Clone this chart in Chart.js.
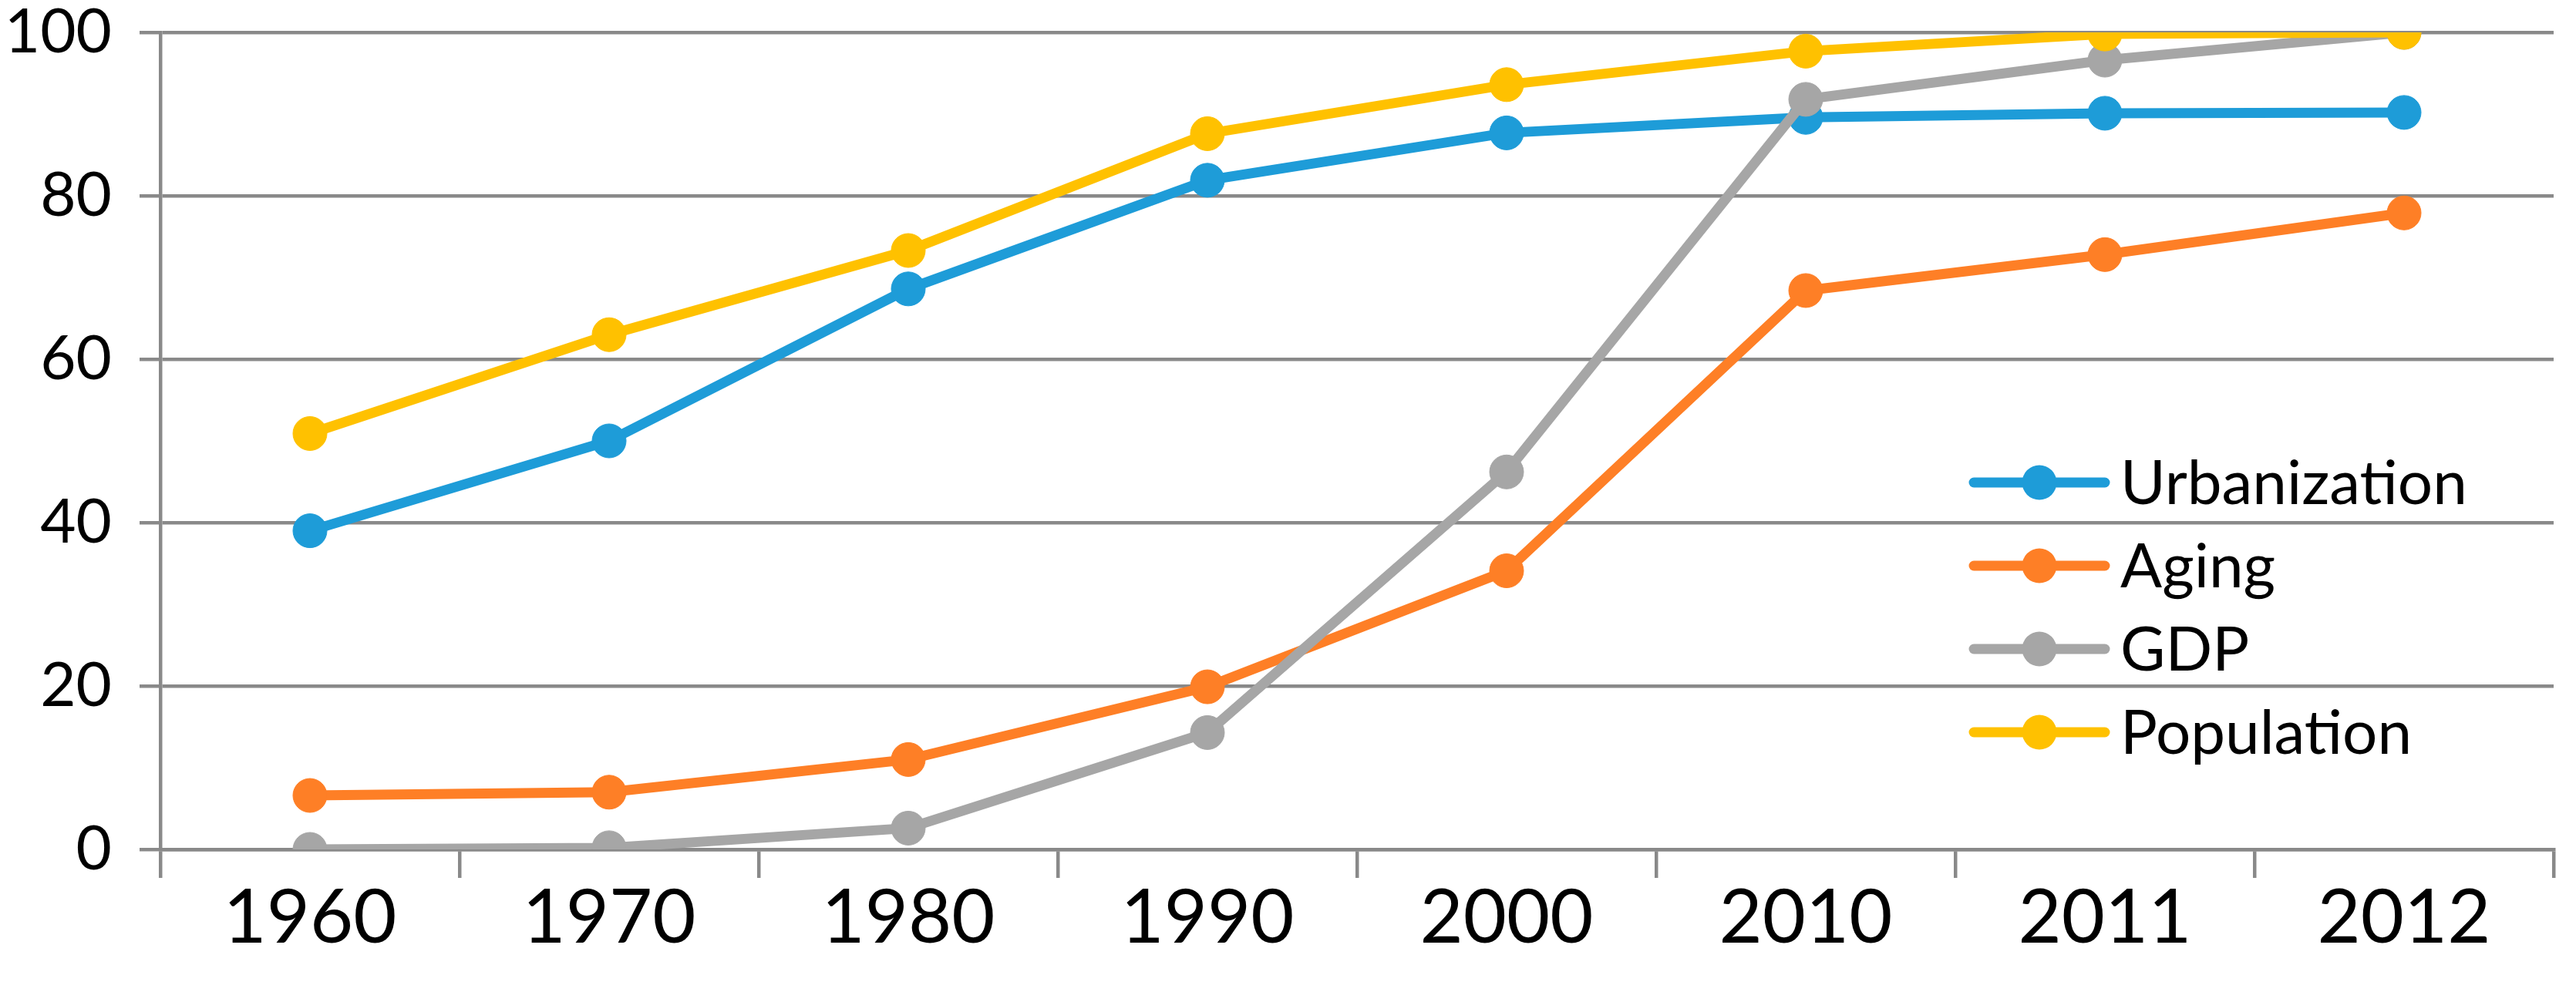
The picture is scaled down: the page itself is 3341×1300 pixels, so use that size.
<!DOCTYPE html>
<html>
<head>
<meta charset="utf-8">
<script src="https://cdn.jsdelivr.net/npm/chart.js@4.4.1/dist/chart.umd.min.js"></script>
<style>
  html, body { margin: 0; padding: 0; background: #fff; }
  #wrap { width: 3341px; height: 1300px; }
</style>
</head>
<body>
<div id="wrap"><canvas id="chart" width="3341" height="1300"></canvas></div>
<script>
const years = ['1960', '1970', '1980', '1990', '2000', '2010', '2011', '2012'];
const urbanization = [39.0, 50.0, 68.6, 81.9, 87.7, 89.6, 90.1, 90.2];
const aging = [6.6, 7.0, 11.0, 19.9, 34.1, 68.4, 72.8, 77.9];
const gdp = [0, 0.2, 2.6, 14.3, 46.2, 91.8, 96.6, 100];
const population = [50.9, 63.0, 73.3, 87.6, 93.6, 97.7, 99.8, 100];
const yTicks = [0, 20, 40, 60, 80, 100];

const gridColor = '#898989';
const fontFamily = 'Lato, "Open Sans", sans-serif';

Chart.defaults.color = '#000';
Chart.defaults.font.family = fontFamily;

function series(label, data, color, order) {
  return {
    label: label,
    data: data,
    borderColor: color,
    backgroundColor: color,
    borderWidth: 13,
    tension: 0,
    pointRadius: 22,
    pointBorderWidth: 1,
    pointBackgroundColor: color,
    pointBorderColor: color,
    order: order
  };
}

// draws the legend box inside the plot, line + marker + label
const insideLegend = {
  id: 'insideLegend',
  afterDraw(chart) {
    const ctx = chart.ctx;
    const x0 = 2560, x1 = 2730, xm = 2645, tx = 2750;
    const y0 = 626, step = 108;
    const sets = chart.data.datasets;
    ctx.save();
    sets.forEach((ds, i) => {
      const y = y0 + i * step;
      ctx.strokeStyle = ds.borderColor;
      ctx.lineWidth = 13;
      ctx.lineCap = 'round';
      ctx.beginPath();
      ctx.moveTo(x0, y);
      ctx.lineTo(x1, y);
      ctx.stroke();
      ctx.fillStyle = ds.borderColor;
      ctx.beginPath();
      ctx.arc(xm, y, 22.5, 0, Math.PI * 2);
      ctx.fill();
      ctx.fillStyle = '#000';
      ctx.font = '80px ' + fontFamily;
      ctx.textBaseline = 'alphabetic';
      ctx.textAlign = 'left';
      ctx.fillText(ds.label, tx, y + 28);
    });
    ctx.restore();
  }
};

new Chart(document.getElementById('chart'), {
  type: 'line',
  data: {
    labels: years,
    datasets: [
      series('Urbanization', urbanization, '#1e9cd8', 4),
      series('Aging', aging, '#fe7f26', 3),
      series('GDP', gdp, '#a6a6a6', 2),
      series('Population', population, '#ffc100', 1)
    ]
  },
  options: {
    responsive: false,
    animation: false,
    layout: { padding: { top: 42, right: 29, left: 0, bottom: 0 } },
    plugins: {
      legend: { display: false },
      tooltip: { enabled: false }
    },
    scales: {
      x: {
        offset: true,
        grid: {
          offset: true,
          drawOnChartArea: false,
          drawTicks: true,
          tickLength: 37,
          color: gridColor,
          lineWidth: 4.5
        },
        border: { display: true, color: gridColor, width: 4.5 },
        ticks: {
          padding: -5,
          maxRotation: 0,
          font: { size: 97, lineHeight: 1.2 }
        },
        afterFit(scale) { scale.height = 198; }
      },
      y: {
        min: 0,
        max: 100,
        afterBuildTicks(scale) { scale.ticks = yTicks.map(v => ({ value: v })); },
        grid: {
          drawTicks: true,
          tickLength: 27,
          color: gridColor,
          lineWidth: 4.5
        },
        border: { display: true, color: gridColor, width: 4.5 },
        ticks: {
          padding: 36,
          font: { size: 80, lineHeight: 1 }
        },
        afterFit(scale) {
          scale.width = 208;
          scale.paddingTop = 0;
          scale.paddingBottom = 0;
        }
      }
    }
  },
  plugins: [insideLegend]
});
</script>
</body>
</html>
